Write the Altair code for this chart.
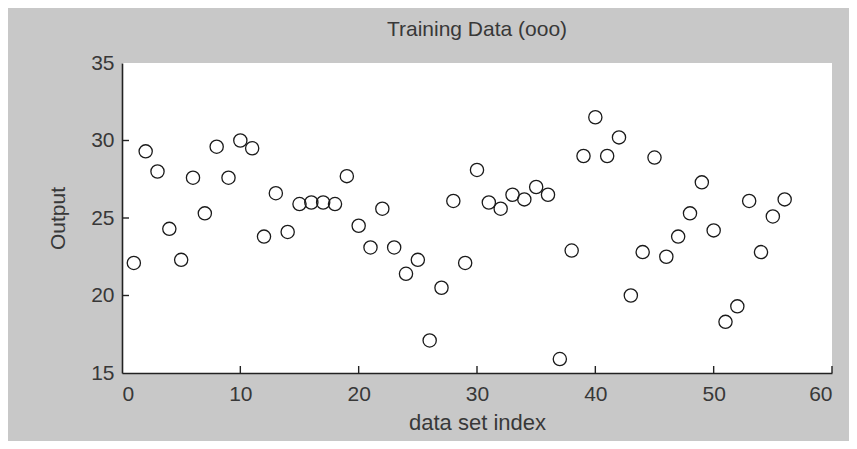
import altair as alt
import pandas as pd

# data
idx = list(range(1, 57))
output = [
    22.1, 29.3, 28.0, 24.3, 22.3, 27.6, 25.3, 29.6, 27.6, 30.0,
    29.5, 23.8, 26.6, 24.1, 25.9, 26.0, 26.0, 25.9, 27.7, 24.5,
    23.1, 25.6, 23.1, 21.4, 22.3, 17.1, 20.5, 26.1, 22.1, 28.1,
    26.0, 25.6, 26.5, 26.2, 27.0, 26.5, 15.9, 22.9, 29.0, 31.5,
    29.0, 30.2, 20.0, 22.8, 28.9, 22.5, 23.8, 25.3, 27.3, 24.2,
    18.3, 19.3, 26.1, 22.8, 25.1, 26.2,
]
x_ticks = [0, 10, 20, 30, 40, 50, 60]
y_ticks = [15, 20, 25, 30, 35]
title_text = "Training Data (ooo)"
x_title = "data set index"
y_title = "Output"

df = pd.DataFrame({"idx": idx, "out": output})
xt = pd.DataFrame({"t": x_ticks[1:]})
yt = pd.DataFrame({"t": y_ticks[1:-1]})

W, H = 710, 310
FONT = "Liberation Sans, Arial, sans-serif"
xs = alt.Scale(domain=[0, 60], nice=False, zero=False)
ys = alt.Scale(domain=[15, 35], nice=False, zero=False)

axis_common = dict(
    domainColor="#222222", domainWidth=1.6, ticks=False,
    labelFont=FONT, labelFontSize=21, labelColor="#383838",
    titleFont=FONT, titleColor="#383838", titleFontWeight="normal",
    grid=False,
)

points = alt.Chart(df).mark_point(
    shape="circle", filled=False, color="#1a1a1a", size=175,
    strokeWidth=1.3, opacity=1,
).encode(
    x=alt.X("idx:Q", scale=xs, axis=alt.Axis(
        values=x_ticks, title=x_title, labelPadding=10, titlePadding=8,
        titleFontSize=22, **axis_common)),
    y=alt.Y("out:Q", scale=ys, axis=alt.Axis(
        values=y_ticks, title=y_title, labelPadding=8, titlePadding=22,
        titleFontSize=21, **axis_common)),
)

xtick = alt.Chart(xt).mark_rule(color="#222222", strokeWidth=1.4).encode(
    x=alt.X("t:Q", scale=xs), y=alt.value(H), y2=alt.value(H - 7)
)
ytick = alt.Chart(yt).mark_rule(color="#222222", strokeWidth=1.4).encode(
    y=alt.Y("t:Q", scale=ys), x=alt.value(0), x2=alt.value(7)
)

chart = alt.layer(points, xtick, ytick).properties(
    width=W, height=H,
    title=alt.TitleParams(title_text, font=FONT, fontSize=21, color="#383838",
                          fontWeight="normal", anchor="middle", offset=12),
    background="#c8c8c8",
    padding={"left": 114, "top": 55, "right": 17, "bottom": 68},
    autosize=alt.AutoSizeParams(type="none"),
).configure_view(fill="white", stroke=None)

chart.save("out.html", embed_options={"renderer": "svg", "actions": False})
